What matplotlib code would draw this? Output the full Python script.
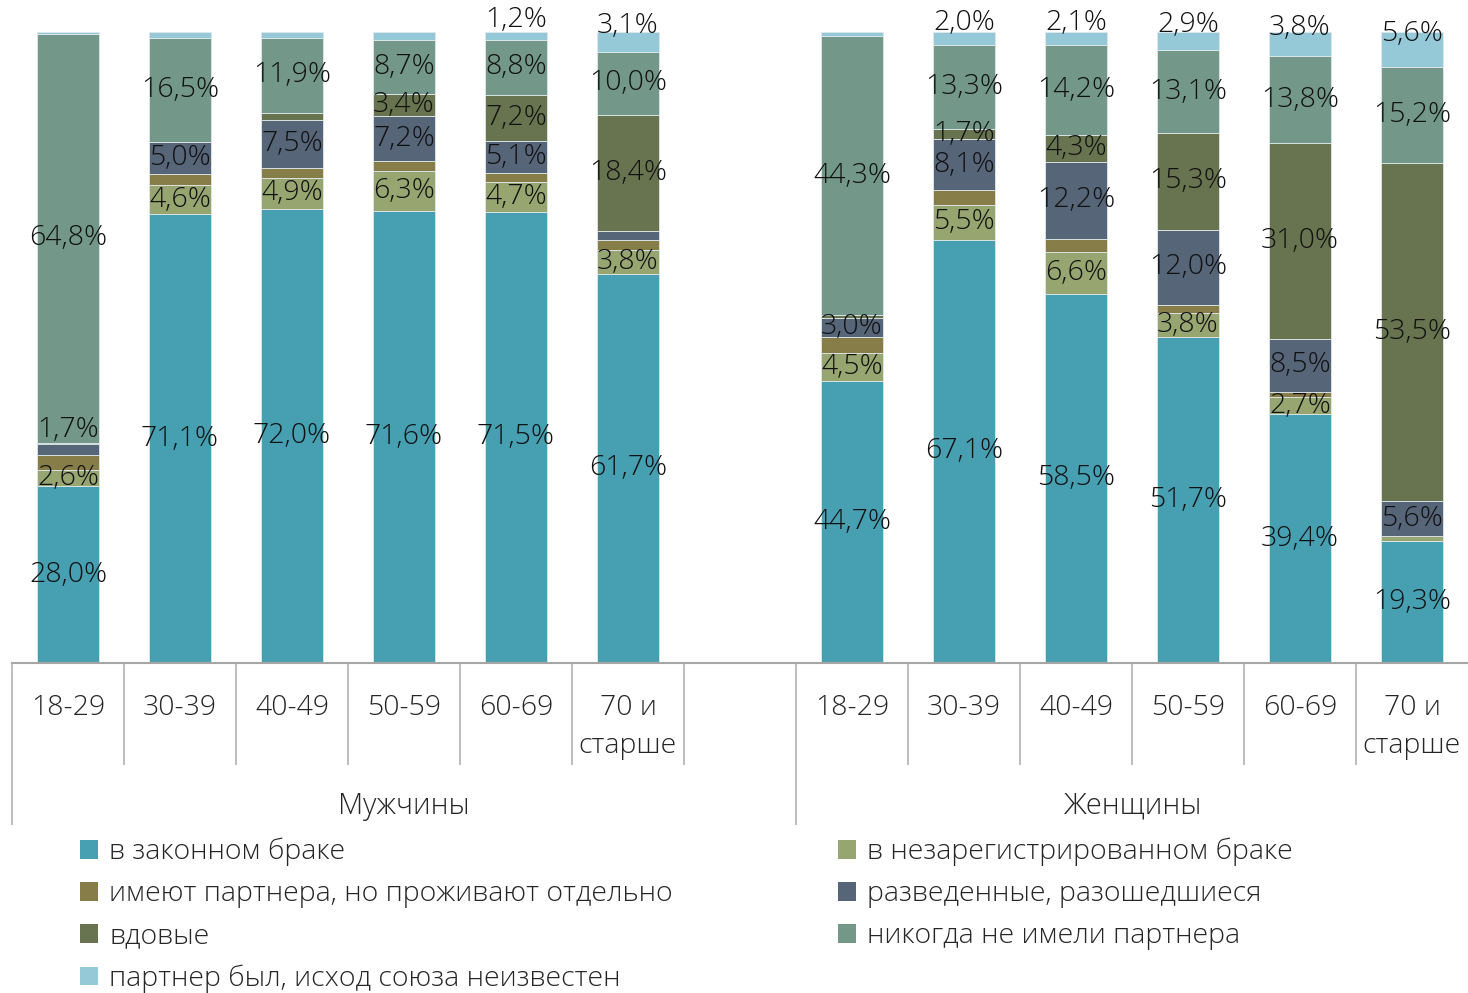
import matplotlib.pyplot as plt
from matplotlib.patches import Patch
import numpy as np

plt.rcParams['font.family'] = ['Open Sans', 'DejaVu Sans']
plt.rcParams['font.weight'] = 'light'

ages = ['18-29', '30-39', '40-49', '50-59', '60-69', '70 и\nстарше']
groups = ['Мужчины', 'Женщины']

series_names = ['в законном браке', 'в незарегистрированном браке',
                'имеют партнера, но проживают отдельно', 'разведенные, разошедшиеся',
                'вдовые', 'никогда не имели партнера', 'партнер был, исход союза неизвестен']
colors = ['#479fb2', '#97a570', '#877d48', '#566577', '#68744f', '#739889', '#95c9d8']

# мужчины, по возрастным группам
men_legal = [28.0, 71.1, 72.0, 71.6, 71.5, 61.7]
men_unreg = [2.6, 4.6, 4.9, 6.3, 4.7, 3.8]
men_apart = [2.4, 1.8, 1.6, 1.6, 1.5, 1.6]
men_divorced = [1.7, 5.0, 7.5, 7.2, 5.1, 1.4]
men_widowed = [0.2, 0.1, 1.2, 3.4, 7.2, 18.4]
men_never = [64.8, 16.5, 11.9, 8.7, 8.8, 10.0]
men_unknown = [0.3, 0.9, 0.9, 1.2, 1.2, 3.1]

# женщины
women_legal = [44.7, 67.1, 58.5, 51.7, 39.4, 19.3]
women_unreg = [4.5, 5.5, 6.6, 3.8, 2.7, 0.8]
women_apart = [2.5, 2.3, 2.1, 1.2, 0.8, 0.0]
women_divorced = [3.0, 8.1, 12.2, 12.0, 8.5, 5.6]
women_widowed = [0.4, 1.7, 4.3, 15.3, 31.0, 53.5]
women_never = [44.3, 13.3, 14.2, 13.1, 13.8, 15.2]
women_unknown = [0.6, 2.0, 2.1, 2.9, 3.8, 5.6]

men = [men_legal, men_unreg, men_apart, men_divorced, men_widowed, men_never, men_unknown]
women = [women_legal, women_unreg, women_apart, women_divorced, women_widowed, women_never, women_unknown]

W, H = 1468, 993
fig = plt.figure(figsize=(W / 100, H / 100), dpi=100)
ax_h = 631
ax = fig.add_axes([12 / W, (H - 663) / H, 1456 / W, ax_h / H])

x = np.concatenate([np.arange(6), np.arange(7, 13)])
bottom = np.zeros(12)
fs = 20.5
for k in range(7):
    vals = np.array(men[k] + women[k])
    ax.bar(x, vals, 0.55, bottom=bottom, color=colors[k], edgecolor='#dfe8ea', linewidth=0.6)
    for i in range(12):
        v = vals[i]
        show = k != 2 and v >= 1.5
        if k == 6 and i == 4:
            show = True
        if show:
            y = bottom[i] + v / 2
            if k == 6:
                y += 2.5
            if k == 3 and i == 0:
                y += 3.0
            ax.text(x[i], y, f'{v:.1f}%'.replace('.', ','), ha='center', va='center',
                    fontsize=fs, color='#111111', clip_on=False)
    bottom += vals

ax.set_xlim(-0.5, 12.5)
ax.set_ylim(0, 100)
for s in ['top', 'right', 'left']:
    ax.spines[s].set_visible(False)
ax.spines['bottom'].set_color('#a6a6a6')
ax.spines['bottom'].set_linewidth(1.5)
ax.set_yticks([])
ax.set_xticks([])

labels_x = list(range(6)) + list(range(7, 13))
ax.set_xticks(labels_x, ages + ages, minor=True)
ax.tick_params(axis='x', which='minor', length=0, pad=22.5, labelsize=20.5, labelcolor='#262626')
for t in ax.get_xticklabels(minor=True):
    t.set_linespacing(1.45)

trans = ax.get_xaxis_transform()
short = [0.5, 1.5, 2.5, 3.5, 4.5, 5.5, 7.5, 8.5, 9.5, 10.5, 11.5]
ax.vlines(short, -102 / ax_h, 0, transform=trans, color='#bfbfbf', lw=1.5, clip_on=False)
ax.vlines([-0.5, 6.5], -162 / ax_h, 0, transform=trans, color='#bfbfbf', lw=1.5, clip_on=False)

ax.text(3, -(806 - 663) / ax_h, groups[0], transform=trans, ha='center', va='center',
        fontsize=21, color='#262626')
ax.text(9.5, -(806 - 663) / ax_h, groups[1], transform=trans, ha='center', va='center',
        fontsize=21, color='#262626')

handles = [Patch(facecolor=c) for c in colors]
left_idx = [0, 2, 4, 6]
right_idx = [1, 3, 5]
kw = dict(loc='upper left', frameon=False, fontsize=20.5, handlelength=0.62, handleheight=0.62,
          handletextpad=0.4, labelspacing=0.49, borderpad=0, borderaxespad=0, labelcolor='#262626')
fig.legend([handles[i] for i in left_idx], [series_names[i] for i in left_idx],
           bbox_to_anchor=(80 / W, (H - 838) / H), **kw)
fig.legend([handles[i] for i in right_idx], [series_names[i] for i in right_idx],
           bbox_to_anchor=(838 / W, (H - 838) / H), **kw)

fig.savefig('out.png', dpi=100)
